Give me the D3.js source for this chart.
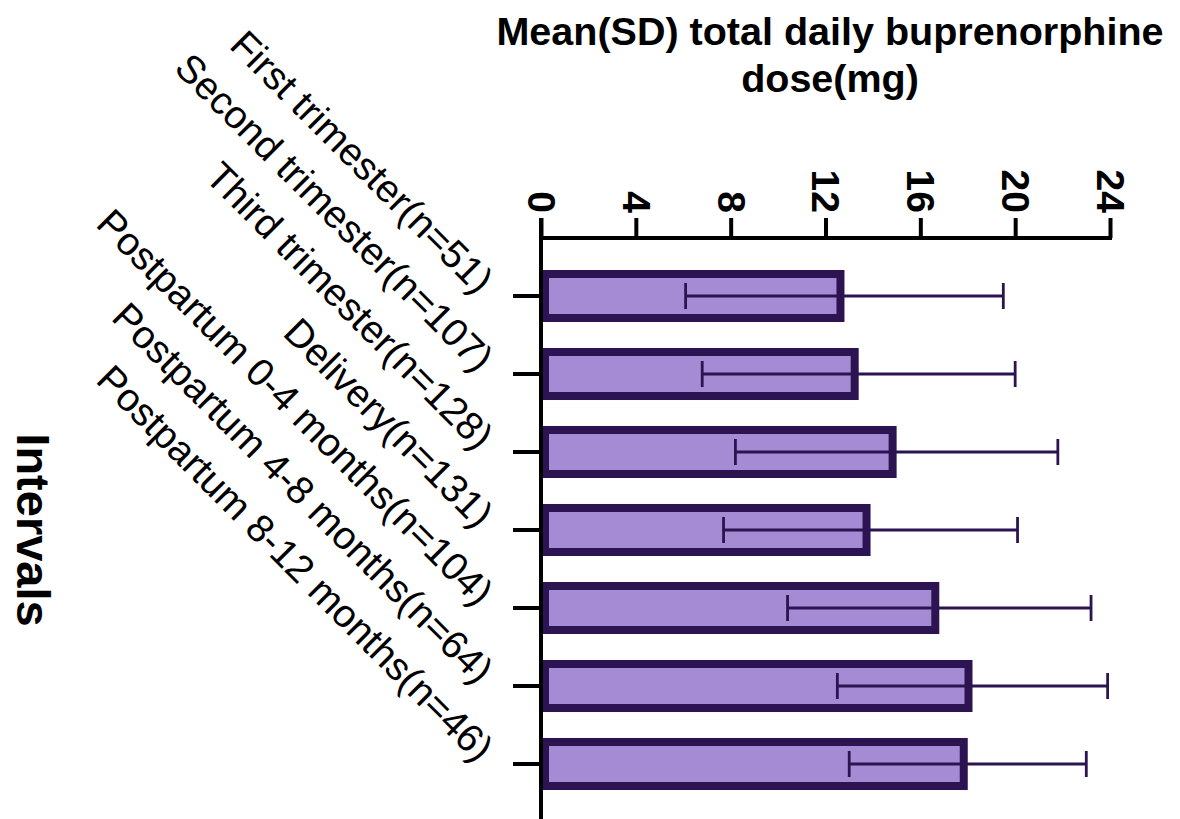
<!DOCTYPE html>
<html>
<head>
<meta charset="utf-8">
<script src="https://cdn.jsdelivr.net/npm/d3@7"></script>
<style>
  html, body { margin: 0; padding: 0; background: #fff; }
  svg { display: block; font-family: Arial, "Liberation Sans", Helvetica, sans-serif; }
</style>
</head>
<body>
<svg id="chart" width="1180" height="819"></svg>
<script>
// Interval categories (with group sizes)
const categories = [
  "First trimester(n=51)",
  "Second trimester(n=107)",
  "Third trimester(n=128)",
  "Delivery(n=131)",
  "Postpartum 0-4 months(n=104)",
  "Postpartum 4-8 months(n=64)",
  "Postpartum 8-12 months(n=46)"
];
// Mean total daily buprenorphine dose (mg)
const means = [12.8, 13.4, 15.0, 13.9, 16.8, 18.2, 18.0];
// Standard deviation (mg)
const sds = [6.7, 6.6, 6.8, 6.2, 6.4, 5.7, 5.0];
// Dose axis ticks
const doseTicks = [0, 4, 8, 12, 16, 20, 24];

const titleLines = ["Mean(SD) total daily buprenorphine", "dose(mg)"];
const yTitle = "Intervals";

const rows = categories.map((c, i) => ({ cat: c, mean: means[i], sd: sds[i] }));

const svg = d3.select("#chart");
const axisY = 238;   // top (dose) axis position
const axisX = 541;   // left (interval) axis position

const x = d3.scaleLinear().domain([0, 24]).range([axisX, 1110]);
const y = d3.scaleBand().domain(categories)
  .range([257, 803]).paddingInner(0.333).paddingOuter(0.1665);

const fillCol = "#a48bd4";
const darkCol = "#2b1451";
const bw = 8;

// Bars (border drawn inside the bar extent)
svg.append("g").selectAll("rect").data(rows).join("rect")
  .attr("x", d => x(0) + bw / 2)
  .attr("y", d => y(d.cat) + bw / 2)
  .attr("width", d => x(d.mean) - x(0) - bw)
  .attr("height", y.bandwidth() - bw)
  .attr("fill", fillCol)
  .attr("stroke", darkCol)
  .attr("stroke-width", bw);

// Error bars (mean ± SD)
const eg = svg.append("g").attr("stroke", darkCol).attr("stroke-width", 2.8).attr("fill", "none");
const cy = d => y(d.cat) + y.bandwidth() / 2;
eg.selectAll("line.whisk").data(rows).join("line").attr("class", "whisk")
  .attr("x1", d => x(d.mean - d.sd)).attr("x2", d => x(d.mean + d.sd))
  .attr("y1", cy).attr("y2", cy);
eg.selectAll("line.capL").data(rows).join("line").attr("class", "capL")
  .attr("x1", d => x(d.mean - d.sd)).attr("x2", d => x(d.mean - d.sd))
  .attr("y1", d => cy(d) - 13).attr("y2", d => cy(d) + 13);
eg.selectAll("line.capR").data(rows).join("line").attr("class", "capR")
  .attr("x1", d => x(d.mean + d.sd)).attr("x2", d => x(d.mean + d.sd))
  .attr("y1", d => cy(d) - 13).attr("y2", d => cy(d) + 13);

// Top dose axis
const xAxis = d3.axisTop(x).tickValues(doseTicks).tickSize(20).tickSizeOuter(0).tickFormat(d3.format("d"));
const gx = svg.append("g").attr("transform", `translate(0,${axisY})`).call(xAxis);
gx.select(".domain").attr("stroke", "#000").attr("stroke-width", 4)
  .attr("d", `M${axisX - 2},0H${x(24) + 2}`);
gx.selectAll(".tick line").attr("stroke", "#000").attr("stroke-width", 4);
gx.selectAll(".tick text")
  .attr("transform", "translate(0,-25) rotate(90)")
  .attr("x", 0).attr("y", 0).attr("dy", "0.35em")
  .attr("text-anchor", "end")
  .attr("font-size", 39).attr("font-weight", "bold").attr("fill", "#000");

// Left interval axis
const yAxis = d3.axisLeft(y).tickSize(28).tickSizeOuter(0).tickFormat("");
const gy = svg.append("g").attr("transform", `translate(${axisX},0)`).call(yAxis);
gy.select(".domain").attr("stroke", "#000").attr("stroke-width", 4)
  .attr("d", `M0,${axisY - 20}V819`);
gy.selectAll(".tick line").attr("stroke", "#000").attr("stroke-width", 4);

// Category labels at 45°
svg.append("g").selectAll("text").data(categories).join("text")
  .attr("transform", d => `translate(477,${y(d) + y.bandwidth() / 2}) rotate(45)`)
  .attr("text-anchor", "end")
  .attr("font-size", 39)
  .attr("fill", "#000")
  .text(d => d);

// Chart title
svg.append("g").selectAll("text").data(titleLines).join("text")
  .attr("x", 830).attr("y", (d, i) => 45 + i * 47)
  .attr("text-anchor", "middle")
  .attr("font-size", 39.5).attr("font-weight", "bold")
  .text(d => d);

// Interval axis title
svg.append("text")
  .attr("transform", "translate(33,530) rotate(90)")
  .attr("text-anchor", "middle").attr("dy", "0.35em")
  .attr("font-size", 47).attr("font-weight", "bold")
  .text(yTitle);
</script>
</body>
</html>
